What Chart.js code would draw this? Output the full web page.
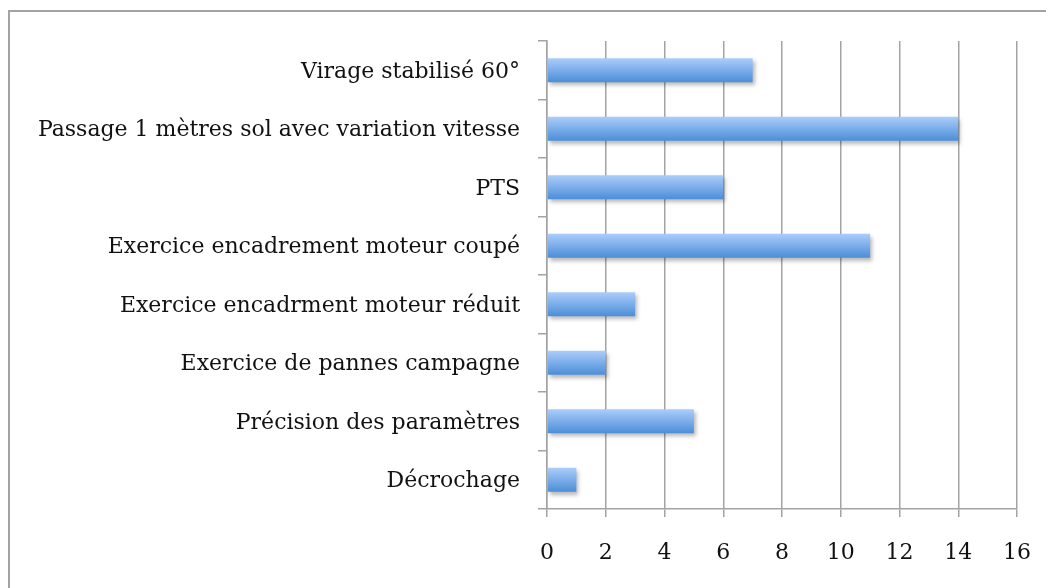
<!DOCTYPE html>
<html>
<head>
<meta charset="utf-8">
<script src="https://cdn.jsdelivr.net/npm/chart.js@4/dist/chart.umd.min.js"></script>
<style>
  html, body { margin: 0; padding: 0; background: #fff; overflow: hidden; }
  #wrap { position: relative; width: 1046px; height: 588px; }
  #frame { position: absolute; left: 8px; top: 10px; width: 1100px; height: 700px; border: 2px solid #a3a3a3; box-sizing: border-box; }
  canvas { position: absolute; left: 0; top: 0; }
</style>
</head>
<body>
<div id="wrap">
  <div id="frame"></div>
  <canvas id="BarChart" width="1046" height="588"></canvas>
</div>
<script>
const categories = [
  'Virage stabilisé 60°',
  'Passage 1 mètres sol avec variation vitesse',
  'PTS',
  'Exercice encadrement moteur coupé',
  'Exercice encadrment moteur réduit',
  'Exercice de pannes campagne',
  'Précision des paramètres',
  'Décrochage'
];
const counts = [7, 14, 6, 11, 3, 2, 5, 1];
const xTicks = [0, 2, 4, 6, 8, 10, 12, 14, 16];

const barPct = 0.41;
const labelFont = { family: "'DejaVu Serif', 'Liberation Serif', serif", size: 22 };

function barFill(context) {
  const chart = context.chart;
  const y = chart.scales.y;
  if (!chart.chartArea || !y) return '#79a8e6';
  const center = y.getPixelForValue(context.dataIndex);
  const half = (y.height / categories.length) * barPct / 2;
  const g = chart.ctx.createLinearGradient(0, center - half, 0, center + half);
  g.addColorStop(0, '#abcdfb');
  g.addColorStop(1, '#4b8ed8');
  return g;
}

const shadowPlugin = {
  id: 'barShadow',
  beforeDatasetsDraw(chart) {
    const ctx = chart.ctx;
    ctx.save();
    ctx.shadowColor = 'rgba(0,0,0,0.28)';
    ctx.shadowBlur = 4;
    ctx.shadowOffsetX = 2;
    ctx.shadowOffsetY = 3;
  },
  afterDatasetsDraw(chart) {
    chart.ctx.restore();
  }
};

const data = {
  labels: categories,
  datasets: [{
    label: '',
    data: counts,
    backgroundColor: barFill,
    borderWidth: 0,
    barPercentage: barPct,
    categoryPercentage: 1
  }]
};

const config = {
  type: 'bar',
  data: data,
  plugins: [shadowPlugin],
  options: {
    indexAxis: 'y',
    responsive: false,
    animation: false,
    layout: { padding: { top: 41, right: 29, bottom: 0, left: 0 } },
    plugins: { legend: { display: false }, tooltip: { enabled: false } },
    scales: {
      x: {
        min: 0, max: 16,
        afterBuildTicks: s => { s.ticks = xTicks.map(v => ({ value: v })); },
        afterFit: s => { s.height = 79; s.paddingLeft = 0; s.paddingRight = 0; },
        grid: { color: '#a3a3a3', lineWidth: 1.5, tickLength: 8 },
        border: { color: '#a3a3a3', width: 1.5 },
        ticks: { color: '#111', font: labelFont, padding: 23, maxRotation: 0 }
      },
      y: {
        afterFit: s => { s.width = 547; s.paddingTop = 0; s.paddingBottom = 0; },
        grid: { drawOnChartArea: false, color: '#a3a3a3', lineWidth: 1.5, tickLength: 9 },
        border: { color: '#a3a3a3', width: 1.5 },
        ticks: { color: '#111', font: labelFont, padding: 18, labelOffset: 2 }
      }
    }
  }
};

new Chart(document.getElementById('BarChart'), config);
</script>
</body>
</html>
